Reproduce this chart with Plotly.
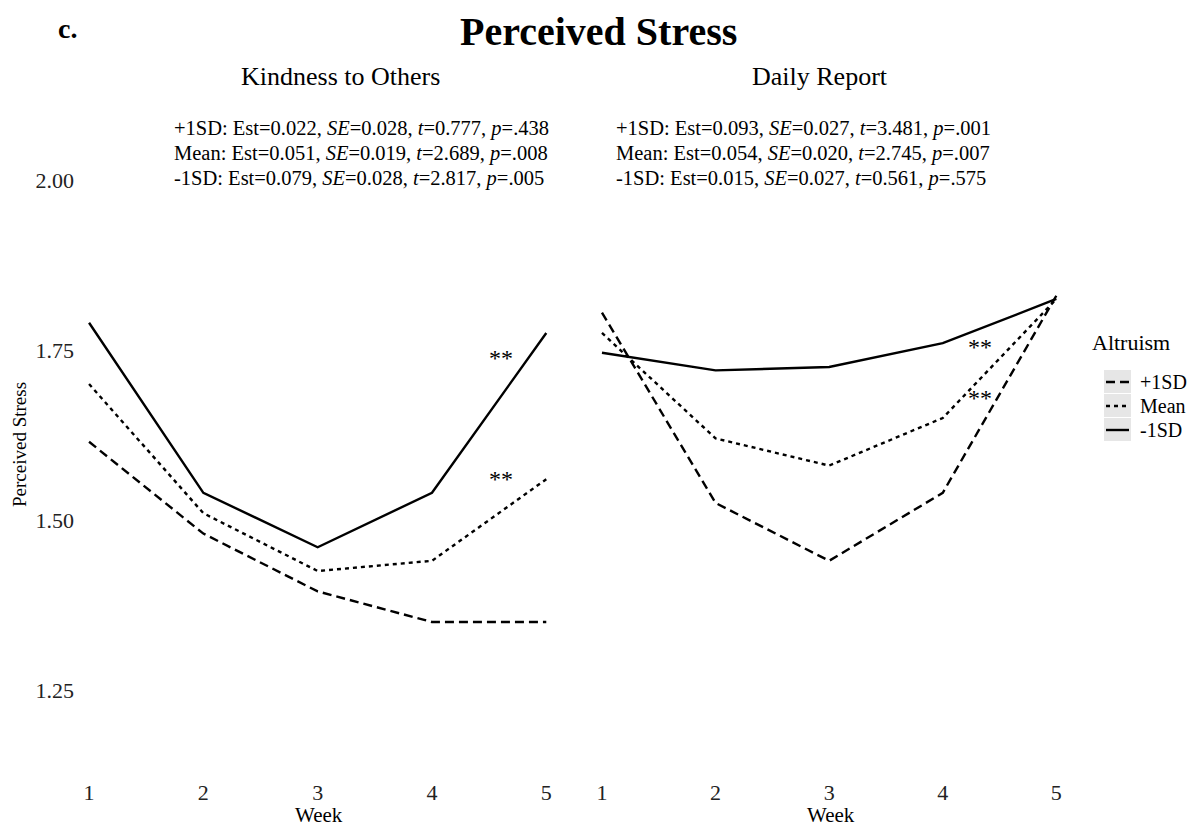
import plotly.graph_objects as go

# weeks on the x axis
weeks = [1, 2, 3, 4, 5]
groups = ["+1SD", "Mean", "-1SD"]

# predicted perceived stress
kindness_plus = [1.615, 1.48, 1.395, 1.35, 1.35]
kindness_mean = [1.70, 1.51, 1.425, 1.44, 1.56]
kindness_minus = [1.79, 1.54, 1.46, 1.54, 1.775]

daily_plus = [1.805, 1.525, 1.44, 1.54, 1.83]
daily_mean = [1.775, 1.62, 1.58, 1.65, 1.825]
daily_minus = [1.746, 1.72, 1.725, 1.76, 1.825]

y_ticks = [1.25, 1.50, 1.75, 2.00]
y_ticktext = ["1.25", "1.50", "1.75", "2.00"]

panel_titles = ["Kindness to Others", "Daily Report"]

kindness_stats = [
    "+1SD: Est=0.022, <i>SE</i>=0.028, <i>t</i>=0.777, <i>p</i>=.438",
    "Mean: Est=0.051, <i>SE</i>=0.019, <i>t</i>=2.689, <i>p</i>=.008",
    "-1SD: Est=0.079, <i>SE</i>=0.028, <i>t</i>=2.817, <i>p</i>=.005",
]
daily_stats = [
    "+1SD: Est=0.093, <i>SE</i>=0.027, <i>t</i>=3.481, <i>p</i>=.001",
    "Mean: Est=0.054, <i>SE</i>=0.020, <i>t</i>=2.745, <i>p</i>=.007",
    "-1SD: Est=0.015, <i>SE</i>=0.027, <i>t</i>=0.561, <i>p</i>=.575",
]

# significance stars (x, y) per panel
kindness_stars = [(4.6, 1.738), (4.6, 1.56)]
daily_stars = [(4.33, 1.755), (4.33, 1.68)]

FONT = "Liberation Serif, Times New Roman, serif"
# page body has an 8px margin, so the figure is a little smaller than the window
OFF = 8
W, H = 1200 - OFF, 826 - OFF
dashes = {"+1SD": "9px,5px", "Mean": "4px,4px", "-1SD": "solid"}


def px(x):
    return (x - OFF) / W


def py(y):
    return 1 - (y - OFF) / H


def note(text, x, y, size, xanchor="center", yanchor="middle", **kw):
    fig.add_annotation(x=px(x), y=py(y), xref="paper", yref="paper", text=text,
                       xanchor=xanchor, yanchor=yanchor, showarrow=False,
                       font=dict(family=FONT, size=size, color="black"), **kw)


fig = go.Figure()

panels = [
    ("x", "y", [kindness_plus, kindness_mean, kindness_minus], kindness_stars),
    ("x2", "y2", [daily_plus, daily_mean, daily_minus], daily_stars),
]
for xa, ya, series, stars in panels:
    for name, vals in zip(groups, series):
        fig.add_trace(go.Scatter(
            x=weeks, y=vals, mode="lines", name=name, xaxis=xa, yaxis=ya,
            line=dict(color="black", width=2.4, dash=dashes[name]),
            showlegend=False,
        ))
    for sx, sy in stars:
        fig.add_annotation(x=sx, y=sy, xref=xa, yref=ya, text="**", showarrow=False,
                           xanchor="center", yanchor="middle",
                           font=dict(family=FONT, size=24, color="black"))

xr = [0.877, 5.12]
yr = [1.1324, 2.1176]
ydom = [py(770), py(100)]
axis_common = dict(showgrid=False, zeroline=False, showline=False,
                   tickfont=dict(family=FONT, size=22, color="#222"))

fig.update_layout(
    width=W, height=H,
    margin=dict(l=0, r=0, t=0, b=0),
    plot_bgcolor="white", paper_bgcolor="white",
    font=dict(family=FONT, color="black"),
    xaxis=dict(domain=[px(75), px(560)], range=xr, anchor="y",
               tickvals=weeks, ticks="outside", ticklen=3, tickcolor="white",
               **axis_common),
    yaxis=dict(domain=ydom, range=yr, anchor="x",
               tickvals=y_ticks, ticktext=y_ticktext, **axis_common),
    xaxis2=dict(domain=[px(588), px(1070)], range=xr, anchor="y2",
                tickvals=weeks, ticks="outside", ticklen=3, tickcolor="white",
                **axis_common),
    yaxis2=dict(domain=ydom, range=yr, anchor="x2", showticklabels=False,
                showgrid=False, zeroline=False, showline=False),
)

# titles
note("<b>Perceived Stress</b>", 598, OFF, 40, yanchor="top", borderpad=0)
note("<b>c.</b>", 67, 28, 28)
for title, cx in zip(panel_titles, [340, 820]):
    note(title, cx, 76, 26)

# stats text
for lines, lx in [(kindness_stats, 172), (daily_stats, 614)]:
    for line, ly in zip(lines, [128, 153, 178]):
        note(line, lx, ly, 20.5, xanchor="left")

# axis titles
note("Perceived Stress", 19, 445, 19, textangle=-90)
note("Week", 319, 815, 21)
note("Week", 831, 815, 21)

# legend drawn by hand to get grey key boxes
note("Altruism", 1090, 342, 22, xanchor="left")
for name, ky in zip(groups, [382, 406, 430]):
    fig.add_shape(type="rect", xref="paper", yref="paper",
                  x0=px(1104), x1=px(1131), y0=py(ky - 12), y1=py(ky + 11),
                  fillcolor="#e6e6e6", line=dict(width=0), layer="below")
    fig.add_shape(type="line", xref="paper", yref="paper",
                  x0=px(1106), x1=px(1129), y0=py(ky), y1=py(ky),
                  line=dict(color="black", width=2.4, dash=dashes[name]))
    note(name, 1138, ky, 20, xanchor="left")

fig.write_html("out.html")
